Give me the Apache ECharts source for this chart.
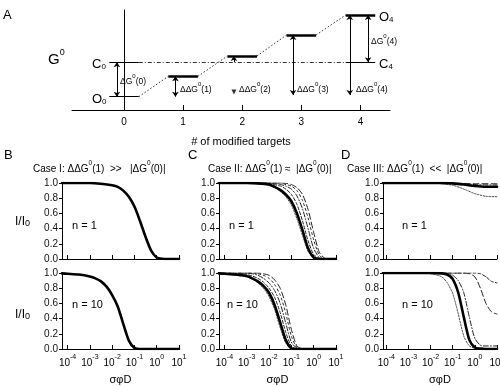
<!DOCTYPE html>
<html><head><meta charset="utf-8">
<script src="https://cdn.jsdelivr.net/npm/echarts@6/dist/echarts.min.js"></script>
<style>html,body{margin:0;padding:0;background:#fff}#c{width:500px;height:386px}</style>
</head><body><div id="c"></div>
<script>
// ---------- Panel A data ----------
const targets = [0, 1, 2, 3, 4];
const targetLabels = ['0', '1', '2', '3', '4'];
const openG = [13.3, 33.7, 54, 75, 95];      // G0 of open state with i modified targets
const closedG = 47.7;                          // G0 of closed state
const arrowBottomG = [13.3, 13.3, 18, 15, 15]; // lower end of ΔΔG arrows

// ---------- Panels B-D data (x = log10 σφD) ----------
const xTickExp = [-4, -3, -2, -1, 0, 1];
const yTicks = [0, 0.2, 0.4, 0.6, 0.8, 1.0];

const caseI_n1 = [[-4.25,1],[-3,1],[-2.5,0.99],[-2,0.97],[-1.75,0.95],[-1.5,0.9],[-1.25,0.82],[-1,0.69],[-0.75,0.5],[-0.5,0.29],[-0.25,0.11],[0,0.02],[0.25,0.003],[0.5,0],[1,0]];
const caseI_n10 = [[-4.25,0.995],[-4,0.99],[-3.5,0.98],[-3,0.955],[-2.75,0.93],[-2.5,0.89],[-2.25,0.82],[-2,0.71],[-1.75,0.56],[-1.5,0.33],[-1.25,0.11],[-1,0.015],[-0.75,0],[1,0]];

const caseII_n1_dot = [[-4.25,1],[-3,1],[-2.5,0.99],[-2,0.97],[-1.75,0.94],[-1.5,0.89],[-1.25,0.82],[-1,0.71],[-0.75,0.53],[-0.5,0.31],[-0.25,0.1],[0,0.01],[0.25,0],[1,0]];
const caseII_n1_thick = [[-4.25,1],[-3,1],[-2.5,0.995],[-2,0.98],[-1.75,0.95],[-1.5,0.91],[-1.25,0.85],[-1,0.76],[-0.75,0.6],[-0.5,0.38],[-0.25,0.14],[0,0.02],[0.25,0],[1,0]];
const caseII_n1_a = [[-4.25,1],[-2.5,1],[-2,0.99],[-1.5,0.96],[-1.25,0.92],[-1,0.85],[-0.75,0.72],[-0.5,0.5],[-0.25,0.24],[0,0.06],[0.25,0.01],[0.5,0],[1,0]];
const caseII_n1_b = [[-4.25,1],[-2,1],[-1.5,0.98],[-1.25,0.96],[-1,0.92],[-0.75,0.83],[-0.5,0.66],[-0.25,0.4],[0,0.14],[0.25,0.02],[0.5,0],[1,0]];
const caseII_n1_c = [[-4.25,1],[-1.5,1],[-1.25,0.98],[-1,0.96],[-0.75,0.9],[-0.5,0.77],[-0.25,0.54],[0,0.25],[0.25,0.05],[0.5,0.005],[1,0]];
const caseII_n1_d = [[-4.25,1],[-1.5,1],[-1.25,0.995],[-1,0.98],[-0.75,0.94],[-0.5,0.85],[-0.25,0.65],[0,0.35],[0.25,0.09],[0.5,0.01],[0.75,0],[1,0]];

const caseII_n10_dot = [[-4.25,0.99],[-4,0.99],[-3.5,0.97],[-3,0.95],[-2.75,0.92],[-2.5,0.87],[-2.25,0.8],[-2,0.69],[-1.75,0.52],[-1.5,0.28],[-1.25,0.08],[-1,0.005],[-0.75,0],[1,0]];
const caseII_n10_thick = [[-4.25,0.995],[-4,0.99],[-3.5,0.98],[-3,0.96],[-2.75,0.93],[-2.5,0.89],[-2.25,0.83],[-2,0.74],[-1.75,0.58],[-1.5,0.35],[-1.25,0.12],[-1,0.01],[-0.75,0],[1,0]];
const caseII_n10_a = [[-4.25,1],[-3.5,0.995],[-3,0.98],[-2.75,0.96],[-2.5,0.93],[-2.25,0.88],[-2,0.8],[-1.75,0.68],[-1.5,0.48],[-1.25,0.22],[-1,0.04],[-0.75,0],[1,0]];
const caseII_n10_b = [[-4.25,1],[-3,0.995],[-2.75,0.99],[-2.5,0.97],[-2.25,0.93],[-2,0.87],[-1.75,0.77],[-1.5,0.6],[-1.25,0.34],[-1,0.09],[-0.75,0.01],[-0.5,0],[1,0]];
const caseII_n10_c = [[-4.25,1],[-2.75,1],[-2.5,0.99],[-2.25,0.97],[-2,0.93],[-1.75,0.85],[-1.5,0.71],[-1.25,0.47],[-1,0.17],[-0.75,0.02],[-0.5,0],[1,0]];
const caseII_n10_d = [[-4.25,1],[-2.5,1],[-2.25,0.99],[-2,0.97],[-1.75,0.91],[-1.5,0.8],[-1.25,0.58],[-1,0.26],[-0.75,0.04],[-0.5,0.005],[1,0]];

const caseIII_n1_thick = [[-4.15,1],[-1.5,1],[-1,0.995],[-0.5,0.98],[0,0.96],[0.5,0.95],[1,0.95]];
const caseIII_n1_dot = [[-4.15,1],[-2,1],[-1.5,0.99],[-1,0.97],[-0.5,0.92],[0,0.86],[0.5,0.825],[1,0.82]];
const caseIII_n1_a = [[-4.15,1],[-1,1],[-0.5,0.995],[0,0.99],[1,0.99]];
const caseIII_n1_b = [[-4.15,1],[-1,0.998],[-0.5,0.99],[0,0.98],[0.5,0.975],[1,0.975]];

const caseIII_n10_thick = [[-4.15,1],[-2,1],[-1.5,0.995],[-1.25,0.98],[-1,0.92],[-0.75,0.74],[-0.5,0.42],[-0.25,0.12],[0,0.02],[0.25,0.005],[0.5,0],[1,0]];
const caseIII_n10_dot = [[-4.15,1],[-2.5,1],[-2,0.99],[-1.5,0.95],[-1.25,0.87],[-1,0.73],[-0.75,0.46],[-0.5,0.17],[-0.25,0.04],[0,0.01],[0.5,0],[1,0]];
const caseIII_n10_a = [[-4.15,1],[-1.5,1],[-1.25,0.995],[-1,0.97],[-0.75,0.9],[-0.5,0.74],[-0.25,0.42],[0,0.14],[0.25,0.05],[0.5,0.04],[1,0.04]];
const caseIII_n10_b = [[-4.15,1],[-0.5,1],[-0.25,0.99],[0,0.95],[0.25,0.8],[0.5,0.6],[0.75,0.49],[1,0.46]];
const caseIII_n10_c = [[-4.15,1],[0,1],[0.25,0.99],[0.5,0.95],[0.75,0.89],[1,0.87]];

// ---------- styling ----------
const FONT = '"Liberation Sans", Arial, Helvetica, sans-serif';
const BLACK = '#000';
const S = {
  thick: {color: BLACK, width: 2.6, type: 'solid'},
  dot: {color: '#444', width: 1, type: [1.5, 1.5]},
  a: {color: '#222', width: 1, type: [3, 2]},
  b: {color: '#222', width: 1, type: [5, 2, 1, 2]},
  c: {color: '#222', width: 1, type: [6, 3]},
  d: {color: '#222', width: 1, type: [2, 3]}
};

const grids = [
  {left: 72, top: 10, width: 318, height: 100},   // A
  {left: 62, top: 183, width: 117, height: 76},   // B top
  {left: 62, top: 273, width: 117, height: 76},   // B bottom
  {left: 219, top: 183, width: 117, height: 76},  // C top
  {left: 219, top: 273, width: 117, height: 76},  // C bottom
  {left: 383, top: 183, width: 114, height: 76},  // D top
  {left: 383, top: 273, width: 114, height: 76}   // D bottom
].map(g => Object.assign({outerBoundsMode: 'none', containLabel: false}, g));

const xMins = [null, -4.25, -4.25, -4.24, -4.24, -4.15, -4.15];

const xAxes = [{
  gridIndex: 0, type: 'value', min: -0.88, max: 4.5,
  axisLine: {show: true, lineStyle: {color: BLACK, width: 1}},
  axisTick: {show: true, inside: true, length: 5, customValues: targets, lineStyle: {color: BLACK}},
  axisLabel: {show: true, customValues: targets, formatter: v => targetLabels[targets.indexOf(v)], fontSize: 10, color: BLACK, fontFamily: FONT, margin: 7},
  splitLine: {show: false},
  name: '# of modified targets', nameLocation: 'middle', nameGap: 26,
  nameTextStyle: {fontSize: 11, color: BLACK, fontFamily: FONT, padding: [0, 0, 0, 20]}
}];
const yAxes = [{
  gridIndex: 0, type: 'value', min: 0, max: 100,
  axisLine: {show: true, lineStyle: {color: BLACK, width: 1}},
  axisTick: {show: false}, axisLabel: {show: false}, splitLine: {show: false}
}];
for (let i = 1; i <= 6; i++) {
  const bottom = (i % 2 === 0);
  xAxes.push({
    gridIndex: i, type: 'value', min: xMins[i], max: 1,
    axisLine: {show: true, onZero: false, lineStyle: {color: BLACK, width: 1}},
    axisTick: {show: true, inside: true, length: 4, customValues: xTickExp, lineStyle: {color: BLACK}},
    axisLabel: {show: bottom, customValues: xTickExp, margin: 5,
      formatter: v => '{b|10}{s|' + v + '}',
      rich: {b: {fontSize: 10, fontFamily: FONT, color: BLACK, lineHeight: 14, verticalAlign: 'bottom'},
             s: {fontSize: 7, fontFamily: FONT, color: BLACK, lineHeight: 14, verticalAlign: 'top'}}},
    splitLine: {show: false},
    name: bottom ? 'σφD' : '', nameLocation: 'middle', nameGap: 25,
    nameTextStyle: {fontSize: 11, color: BLACK, fontFamily: FONT}
  });
  yAxes.push({
    gridIndex: i, type: 'value', min: 0, max: 1, interval: 0.2,
    axisLine: {show: true, onZero: false, lineStyle: {color: BLACK, width: 1}},
    axisTick: {show: true, inside: false, length: 3, lineStyle: {color: BLACK}},
    axisLabel: {show: true, formatter: v => v.toFixed(1), fontSize: 10, color: '#111', fontFamily: FONT, margin: 4},
    splitLine: {show: false}
  });
}

const series = [];
function curve(gi, data, st, z) {
  series.push({type: 'line', xAxisIndex: gi, yAxisIndex: gi, data: data, showSymbol: false, symbol: 'none',
    smooth: 0.25, lineStyle: Object.assign({join: 'round', cap: 'round'}, st), z: z || 2, silent: true, animation: false});
}
curve(1, caseI_n1, S.thick, 5);
curve(2, caseI_n10, S.thick, 5);
[[3, [caseII_n1_a, caseII_n1_b, caseII_n1_c, caseII_n1_d, caseII_n1_dot, caseII_n1_thick]],
 [4, [caseII_n10_a, caseII_n10_b, caseII_n10_c, caseII_n10_d, caseII_n10_dot, caseII_n10_thick]]].forEach(([gi, arr]) => {
  curve(gi, arr[0], S.a); curve(gi, arr[1], S.b); curve(gi, arr[2], S.d); curve(gi, arr[3], S.c);
  curve(gi, arr[4], S.dot); curve(gi, arr[5], S.thick, 5);
});
curve(5, caseIII_n1_a, S.c); curve(5, caseIII_n1_b, S.b); curve(5, caseIII_n1_dot, S.dot); curve(5, caseIII_n1_thick, S.thick, 5);
curve(6, caseIII_n10_a, S.b); curve(6, caseIII_n10_b, S.c); curve(6, caseIII_n10_c, S.a);
curve(6, caseIII_n10_dot, S.dot); curve(6, caseIII_n10_thick, S.thick, 5);

// ---------- Panel A marks ----------
const HW = 0.25;
function lines(data, st, sym, z) {
  series.push({type: 'lines', coordinateSystem: 'cartesian2d', xAxisIndex: 0, yAxisIndex: 0,
    data: data.map(c => ({coords: c})), lineStyle: Object.assign({opacity: 1, curveness: 0}, st),
    symbol: sym || ['none', 'none'], symbolSize: 5, z: z || 2, silent: true, animation: false});
}
// closed level line
lines([[[targets[0] - HW, closedG], [targets[0] + HW, closedG]], [[targets[4] - HW, closedG], [targets[4] + HW, closedG]]], {color: BLACK, width: 1});
lines([[[targets[0] + HW, closedG], [targets[4] - HW, closedG]]], {color: '#333', width: 1, type: [4, 2, 1, 2]});
// open levels
lines([[[targets[0] - HW, openG[0]], [targets[0] + HW, openG[0]]]], {color: BLACK, width: 1.2});
lines(targets.slice(1).map(t => [[t - HW, openG[t]], [t + HW, openG[t]]]), {color: BLACK, width: 2.6}, null, 4);
// connectors
lines(targets.slice(0, 4).map(t => [[t + HW, openG[t]], [t + 1 - HW, openG[t + 1]]]), {color: '#333', width: 1, type: [1.5, 2]});
// arrows
const arrX0 = targets[0] - 0.12;
lines([[[arrX0, closedG], [arrX0, openG[0]]]], {color: BLACK, width: 1}, ['arrow', 'arrow'], 3);
lines([[[targets[1] - 0.13, openG[1]], [targets[1] - 0.13, arrowBottomG[1]]],
       [[targets[3] - 0.14, openG[3]], [targets[3] - 0.14, arrowBottomG[3]]],
       [[targets[4] - 0.18, openG[4]], [targets[4] - 0.18, arrowBottomG[4]]]], {color: BLACK, width: 1}, ['arrow', 'arrow'], 3);
lines([[[targets[2] - 0.14, closedG], [targets[2] - 0.14, openG[2]]]], {color: BLACK, width: 1}, ['none', 'arrow'], 3);
lines([[[targets[4] + 0.13, openG[4]], [targets[4] + 0.13, closedG]]], {color: BLACK, width: 1}, ['arrow', 'arrow'], 3);
series.push({type: 'scatter', xAxisIndex: 0, yAxisIndex: 0, data: [[targets[2] - 0.14, arrowBottomG[2]]],
  symbol: 'triangle', symbolRotate: 180, symbolSize: [5, 5], itemStyle: {color: BLACK}, silent: true, animation: false});

// ---------- texts ----------
function rt(n, s) { return {n: {fontSize: n, fontFamily: FONT, fill: BLACK, color: BLACK, lineHeight: n + 4, verticalAlign: 'bottom'},
                             s: {fontSize: s, fontFamily: FONT, fill: BLACK, color: BLACK, lineHeight: n + 4, verticalAlign: 'top'},
                             b: {fontSize: s, fontFamily: FONT, fill: BLACK, color: BLACK, lineHeight: n + 4, verticalAlign: 'bottom'}}; }
function T(x, y, text, n, s, align) {
  return {type: 'text', x: x, y: y, silent: true,
    style: {text: text, rich: rt(n, s || Math.round(n * 0.7)), font: n + 'px ' + FONT, fill: BLACK, align: align || 'left', verticalAlign: 'middle'}};
}
const dG = (pre, k) => '{n|' + pre + 'G}{s|0}{n|(' + k + ')}';
const graphics = [
  T(3, 13, '{n|A}', 13), T(4, 153, '{n|B}', 13), T(188, 153, '{n|C}', 13), T(341, 153, '{n|D}', 13),
  T(48, 58, '{n|G}{s|0}', 15, 9),
  T(92, 62, '{n|C}{b|0}', 13, 8), T(92, 97, '{n|O}{b|0}', 13, 8),
  T(379, 15, '{n|O}{b|4}', 13, 8), T(379, 62, '{n|C}{b|4}', 13, 8),
  T(120, 80, dG('Δ', 0), 8.5, 6), T(180, 88, dG('ΔΔ', 1), 8.5, 6), T(239, 88, dG('ΔΔ', 2), 8.5, 6),
  T(297, 88, dG('ΔΔ', 3), 8.5, 6), T(356, 88, dG('ΔΔ', 4), 8.5, 6), T(371, 40, dG('Δ', 4), 8.5, 6),
  T(33, 167, '{n|Case I: ΔΔG}{s|0}{n|(1)  >>   |ΔG}{s|0}{n|(0)|}', 10, 6.5),
  T(208, 167, '{n|Case II: ΔΔG}{s|0}{n|(1) ≈  |ΔG}{s|0}{n|(0)|}', 10, 6.5),
  T(347, 167, '{n|Case III: ΔΔG}{s|0}{n|(1)  <<  |ΔG}{s|0}{n|(0)|}', 10, 6.5),
  T(15, 220, '{n|I/I}{b|0}', 12, 9), T(15, 313, '{n|I/I}{b|0}', 12, 9),
  T(72, 224, '{n|n = 1}', 11), T(72, 303, '{n|n = 10}', 11),
  T(229, 224, '{n|n = 1}', 11), T(227, 303, '{n|n = 10}', 11),
  T(402, 224, '{n|n = 1}', 11), T(402, 303, '{n|n = 10}', 11)
];

const chart = echarts.init(document.getElementById('c'), null, {renderer: 'canvas'});
chart.setOption({
  backgroundColor: '#fff', animation: false,
  grid: grids, xAxis: xAxes, yAxis: yAxes, series: series, graphic: graphics
});
</script></body></html>
